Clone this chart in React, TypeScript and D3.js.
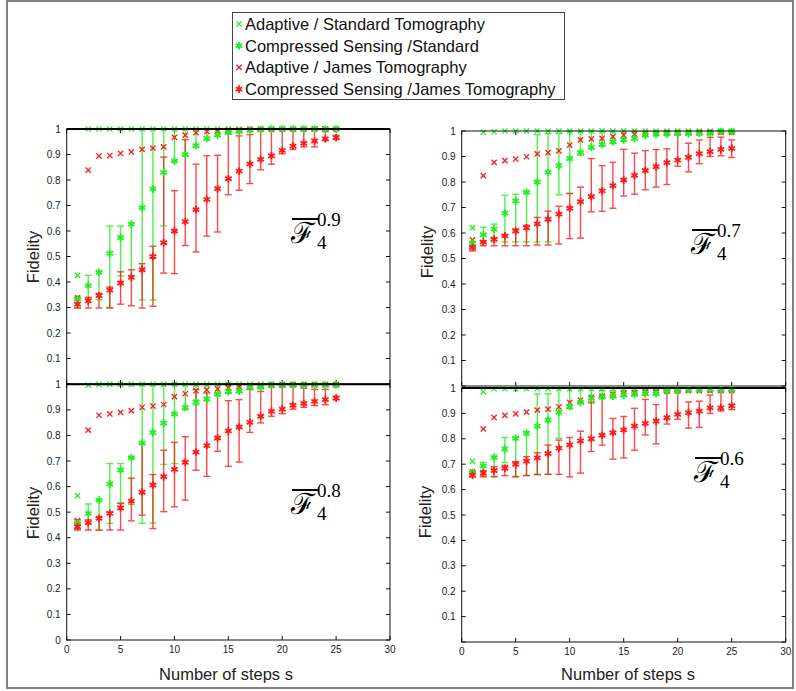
import React from 'react';
import * as d3 from 'd3';

// steps on the x axis
const steps = [1, 2, 3, 4, 5, 6, 7, 8, 9, 10, 11, 12, 13, 14, 15, 16, 17, 18, 19, 20, 21, 22, 23, 24, 25];
const xTicks = [0, 5, 10, 15, 20, 25, 30];
const yTicks = [0, 0.1, 0.2, 0.3, 0.4, 0.5, 0.6, 0.7, 0.8, 0.9, 1];

const legendLabels = [
  'Adaptive / Standard Tomography',
  'Compressed Sensing /Standard',
  'Adaptive / James Tomography',
  'Compressed Sensing /James Tomography',
];

// F^0.9
const f09AdStd = [0.426, 1, 1, 1, 1, 1, 1, 1, 1, 1, 1, 1, 1, 1, 1, 1, 1, 1, 1, 1, 1, 1, 1, 1, 1];
const f09CsStd = [0.333, 0.386, 0.438, 0.512, 0.574, 0.627, 0.691, 0.765, 0.83, 0.874, 0.9, 0.935, 0.963, 0.976, 0.986, 0.99, 0.996, 0.998, 1, 1, 1, 1, 1, 1, 1];
const f09CsStdLo = [0.298, 0.335, 0.33, 0.3, 0.424, 0.424, 0.33, 0.33, 0.62, 0.87, 0.895, 0.93, 0.958, 0.972, 0.98, 0.985, 0.99, 0.995, 0.996, 0.997, 0.998, 0.998, 0.998, 0.998, 0.998];
const f09CsStdHi = [0.335, 0.426, 0.44, 0.619, 0.619, 0.632, 1, 1, 1, 1, 1, 1, 1, 1, 1, 1, 1, 1, 1, 1, 1, 1, 1, 1, 1];
const f09AdJam = [0.338, 0.839, 0.894, 0.896, 0.904, 0.91, 0.92, 0.925, 0.93, 0.967, 0.976, 0.986, 0.99, 0.992, 0.995, 0.996, 0.997, 0.998, 0.998, 0.999, 0.999, 0.999, 1, 1, 1];
const f09CsJam = [0.313, 0.326, 0.347, 0.368, 0.396, 0.418, 0.448, 0.5, 0.554, 0.6, 0.637, 0.684, 0.724, 0.766, 0.805, 0.835, 0.863, 0.881, 0.895, 0.916, 0.933, 0.944, 0.953, 0.961, 0.966];
const f09CsJamLo = [0.298, 0.298, 0.298, 0.298, 0.313, 0.307, 0.298, 0.305, 0.435, 0.433, 0.543, 0.518, 0.58, 0.596, 0.742, 0.76, 0.786, 0.84, 0.862, 0.903, 0.92, 0.93, 0.93, 0.955, 0.96];
const f09CsJamHi = [0.34, 0.34, 0.355, 0.38, 0.44, 0.448, 0.472, 0.54, 0.89, 0.758, 0.958, 0.862, 0.895, 0.897, 0.99, 0.973, 0.978, 1, 1, 1, 1, 1, 0.995, 0.99, 0.975];

// F^0.8
const f08AdStd = [0.565, 0.997, 1, 1, 1, 1, 1, 1, 1, 1, 1, 1, 1, 1, 1, 1, 1, 1, 1, 1, 1, 1, 1, 1, 1];
const f08CsStd = [0.456, 0.495, 0.547, 0.61, 0.665, 0.713, 0.77, 0.812, 0.848, 0.884, 0.91, 0.931, 0.943, 0.962, 0.971, 0.973, 0.987, 0.988, 0.997, 0.997, 0.997, 0.997, 0.997, 0.997, 0.997];
const f08CsStdLo = [0.435, 0.456, 0.43, 0.456, 0.535, 0.53, 0.457, 0.457, 0.687, 0.69, 0.9, 0.92, 0.935, 0.955, 0.965, 0.97, 0.98, 0.985, 0.993, 0.994, 0.994, 0.994, 0.994, 0.994, 0.994];
const f08CsStdHi = [0.456, 0.532, 0.548, 0.69, 0.69, 0.715, 1, 1, 1, 1, 1, 1, 1, 1, 1, 1, 1, 1, 1, 1, 1, 1, 1, 1, 1];
const f08AdJam = [0.467, 0.821, 0.879, 0.884, 0.89, 0.897, 0.91, 0.915, 0.921, 0.952, 0.963, 0.975, 0.978, 0.982, 0.986, 0.991, 0.995, 0.996, 0.997, 0.997, 0.998, 0.998, 0.998, 0.998, 0.998];
const f08CsJam = [0.443, 0.459, 0.476, 0.495, 0.517, 0.543, 0.578, 0.606, 0.639, 0.667, 0.695, 0.735, 0.76, 0.79, 0.818, 0.833, 0.851, 0.875, 0.894, 0.903, 0.918, 0.925, 0.933, 0.94, 0.946];
const f08CsJamLo = [0.43, 0.43, 0.43, 0.43, 0.43, 0.466, 0.488, 0.436, 0.502, 0.521, 0.547, 0.664, 0.64, 0.738, 0.679, 0.696, 0.812, 0.849, 0.875, 0.885, 0.903, 0.91, 0.917, 0.92, 0.94];
const f08CsJamHi = [0.47, 0.47, 0.48, 0.5, 0.535, 0.633, 0.765, 0.647, 0.742, 0.773, 0.795, 0.979, 0.966, 0.965, 0.936, 0.94, 0.98, 0.972, 0.99, 0.99, 0.99, 0.985, 0.98, 0.98, 0.953];

// F^0.7
const f07AdStd = [0.621, 0.995, 0.997, 1, 1, 1, 1, 1, 1, 1, 1, 1, 1, 1, 1, 1, 1, 1, 1, 1, 1, 1, 1, 1, 1];
const f07CsStd = [0.56, 0.593, 0.615, 0.678, 0.726, 0.76, 0.8, 0.838, 0.864, 0.892, 0.916, 0.936, 0.948, 0.958, 0.965, 0.971, 0.983, 0.987, 0.988, 0.99, 0.99, 0.99, 0.99, 0.998, 0.998];
const f07CsStdLo = [0.55, 0.565, 0.565, 0.565, 0.565, 0.565, 0.565, 0.565, 0.75, 0.755, 0.905, 0.93, 0.94, 0.952, 0.96, 0.966, 0.978, 0.983, 0.985, 0.987, 0.987, 0.987, 0.988, 0.995, 0.995];
const f07CsStdHi = [0.565, 0.623, 0.635, 0.748, 0.752, 0.762, 0.985, 0.99, 0.99, 1, 1, 1, 0.998, 0.998, 0.998, 0.998, 0.998, 0.998, 0.998, 0.998, 0.998, 0.998, 0.998, 1, 1];
const f07AdJam = [0.573, 0.825, 0.877, 0.884, 0.89, 0.899, 0.91, 0.915, 0.922, 0.945, 0.965, 0.969, 0.971, 0.978, 0.984, 0.988, 0.99, 0.992, 0.993, 0.994, 0.994, 0.995, 0.995, 0.995, 0.995];
const f07CsJam = [0.543, 0.564, 0.576, 0.589, 0.608, 0.62, 0.636, 0.654, 0.674, 0.697, 0.723, 0.743, 0.765, 0.786, 0.808, 0.826, 0.845, 0.86, 0.876, 0.886, 0.897, 0.911, 0.919, 0.928, 0.932];
const f07CsJamLo = [0.53, 0.55, 0.55, 0.55, 0.55, 0.55, 0.553, 0.553, 0.557, 0.578, 0.58, 0.683, 0.685, 0.697, 0.745, 0.752, 0.77, 0.78, 0.79, 0.862, 0.84, 0.872, 0.9, 0.903, 0.896];
const f07CsJamHi = [0.545, 0.57, 0.58, 0.592, 0.615, 0.63, 0.661, 0.686, 0.705, 0.755, 0.78, 0.892, 0.864, 0.877, 0.928, 0.913, 0.923, 0.927, 0.93, 0.985, 0.952, 0.965, 0.975, 0.976, 0.965];

// F^0.6
const f06AdStd = [0.711, 0.985, 0.997, 0.997, 0.997, 0.997, 0.997, 0.997, 0.997, 0.997, 0.997, 0.997, 0.997, 0.997, 0.997, 0.997, 0.997, 0.997, 0.997, 0.997, 0.997, 0.997, 0.997, 0.997, 0.997];
const f06CsStd = [0.668, 0.693, 0.727, 0.76, 0.802, 0.822, 0.85, 0.874, 0.904, 0.926, 0.943, 0.959, 0.965, 0.968, 0.972, 0.975, 0.977, 0.978, 0.988, 0.989, 0.994, 0.994, 0.994, 0.994, 0.994];
const f06CsStdLo = [0.66, 0.655, 0.652, 0.706, 0.652, 0.656, 0.658, 0.66, 0.802, 0.92, 0.94, 0.94, 0.958, 0.962, 0.966, 0.97, 0.972, 0.974, 0.984, 0.986, 0.99, 0.99, 0.99, 0.99, 0.99];
const f06CsStdHi = [0.67, 0.707, 0.73, 0.805, 0.805, 0.827, 0.977, 0.977, 1, 1, 1, 1, 0.99, 0.99, 0.99, 0.99, 0.99, 0.99, 0.995, 0.995, 0.998, 0.998, 0.998, 0.998, 0.998];
const f06AdJam = [0.67, 0.839, 0.884, 0.892, 0.898, 0.905, 0.913, 0.917, 0.926, 0.943, 0.952, 0.963, 0.968, 0.975, 0.978, 0.982, 0.985, 0.985, 0.987, 0.988, 0.99, 0.99, 0.99, 0.99, 0.99];
const f06CsJam = [0.657, 0.665, 0.675, 0.684, 0.7, 0.712, 0.725, 0.742, 0.763, 0.776, 0.792, 0.8, 0.814, 0.824, 0.835, 0.85, 0.861, 0.87, 0.883, 0.896, 0.903, 0.909, 0.922, 0.922, 0.93];
const f06CsJamLo = [0.65, 0.65, 0.65, 0.655, 0.65, 0.655, 0.66, 0.66, 0.66, 0.65, 0.665, 0.75, 0.775, 0.72, 0.725, 0.755, 0.815, 0.78, 0.858, 0.877, 0.842, 0.845, 0.9, 0.91, 0.915];
const f06CsJamHi = [0.67, 0.675, 0.69, 0.695, 0.71, 0.73, 0.745, 0.775, 0.795, 0.805, 0.83, 0.945, 0.965, 0.88, 0.888, 0.92, 0.955, 0.935, 0.989, 0.988, 0.945, 0.948, 0.972, 0.99, 0.99];

const RED = '#ff1a1a';
const GREEN = '#22ee22';
const TXT = '#222';

const timesPath = d3.symbol(d3.symbolTimes, 20)();
const starPath = d3.symbol(d3.symbolAsterisk, 40)();

type PanelProps = {
  x0: number; x1: number; yTop: number; yBot: number;
  adStd: number[]; csStd: number[]; csStdLo: number[]; csStdHi: number[];
  adJam: number[]; csJam: number[]; csJamLo: number[]; csJamHi: number[];
  showZero: boolean; showXLabels: boolean; thickTop: boolean;
};

function Panel(p: PanelProps) {
  const x = d3.scaleLinear().domain([0, 30]).range([p.x0, p.x1]);
  const y = d3.scaleLinear().domain([0, 1]).range([p.yBot, p.yTop]);
  const tk = 4;

  const bars = (lo: number[], hi: number[], color: string, key: string) =>
    steps.map((s, i) => {
      const cx = x(s);
      return (
        <g key={key + s} stroke={color} strokeWidth={1.4} opacity={0.8}>
          <line x1={cx} x2={cx} y1={y(lo[i])} y2={y(hi[i])} />
          <line x1={cx - 3.5} x2={cx + 3.5} y1={y(lo[i])} y2={y(lo[i])} />
          <line x1={cx - 3.5} x2={cx + 3.5} y1={y(hi[i])} y2={y(hi[i])} />
        </g>
      );
    });

  const marks = (vals: number[], path: string, color: string, key: string, w: number) =>
    steps.map((s, i) => (
      <path key={key + s} d={path} transform={`translate(${x(s)},${y(vals[i])})`}
        fill="none" stroke={color} strokeWidth={w} />
    ));

  return (
    <g>
      <rect x={p.x0} y={p.yTop} width={p.x1 - p.x0} height={p.yBot - p.yTop} fill="#fff" />
      {/* ticks */}
      <g stroke="#111" strokeWidth={1}>
        {yTicks.map(t => (
          <g key={'yt' + t}>
            <line x1={p.x0} x2={p.x0 + tk} y1={y(t)} y2={y(t)} />
            <line x1={p.x1} x2={p.x1 - tk} y1={y(t)} y2={y(t)} />
          </g>
        ))}
        {xTicks.map(t => (
          <g key={'xt' + t}>
            <line x1={x(t)} x2={x(t)} y1={p.yBot} y2={p.yBot - tk} />
            <line x1={x(t)} x2={x(t)} y1={p.yTop} y2={p.yTop + tk} />
          </g>
        ))}
      </g>
      {yTicks.filter(t => t > 0 || p.showZero).map(t => (
        <text key={'yl' + t} x={p.x0 - 6} y={y(t)} dy="0.35em" textAnchor="end"
          fontSize={10} fontFamily="Liberation Sans, Arial, sans-serif" fill={TXT}>{t}</text>
      ))}
      {p.showXLabels && xTicks.map(t => (
        <text key={'xl' + t} x={x(t)} y={p.yBot + 13} textAnchor="middle"
          fontSize={10} fontFamily="Liberation Sans, Arial, sans-serif" fill={TXT}>{t}</text>
      ))}
      {bars(p.csStdLo, p.csStdHi, GREEN, 'gb')}
      {bars(p.csJamLo, p.csJamHi, RED, 'rb')}
      {marks(p.adStd, timesPath, GREEN, 'gx', 1.3)}
      {marks(p.adJam, timesPath, RED, 'rx', 1.3)}
      {marks(p.csStd, starPath, GREEN, 'gs', 1.8)}
      {marks(p.csJam, starPath, RED, 'rs', 1.8)}
      {/* frame */}
      <rect x={p.x0} y={p.yTop} width={p.x1 - p.x0} height={p.yBot - p.yTop}
        fill="none" stroke="#111" strokeWidth={1} />
      {p.thickTop && <line x1={p.x0} x2={p.x1} y1={p.yTop} y2={p.yTop} stroke="#000" strokeWidth={2} />}
    </g>
  );
}

function FLabel({ x, y, sup }: { x: number; y: number; sup: string }) {
  return (
    <g fill="#000">
      <line x1={x} x2={x + 27} y1={y} y2={y} stroke="#000" strokeWidth={2} />
      <text x={x - 1} y={y + 24} fontSize={29} fontFamily="DejaVu Serif, serif">ℱ</text>
      <text x={x + 25} y={y + 7} fontSize={19} fontFamily="Liberation Serif, serif">{sup}</text>
      <text x={x + 25} y={y + 30} fontSize={19} fontFamily="Liberation Serif, serif">4</text>
    </g>
  );
}

export default function App() {
  const legendColors = [GREEN, GREEN, RED, RED];
  const legendPaths = [timesPath, starPath, timesPath, starPath];
  const sans = 'Liberation Sans, Arial, sans-serif';
  return (
    <svg width={796} height={691} style={{ position: 'absolute', left: 0, top: 0, background: '#fff' }}>
      <rect x={7} y={1} width={786} height={687} fill="#fff" stroke="#808080" strokeWidth={2} />

      <Panel x0={66.7} x1={390} yTop={129} yBot={384}
        adStd={f09AdStd} csStd={f09CsStd} csStdLo={f09CsStdLo} csStdHi={f09CsStdHi}
        adJam={f09AdJam} csJam={f09CsJam} csJamLo={f09CsJamLo} csJamHi={f09CsJamHi}
        showZero={false} showXLabels={false} thickTop={true} />
      <Panel x0={461.7} x1={785.7} yTop={131} yBot={386}
        adStd={f07AdStd} csStd={f07CsStd} csStdLo={f07CsStdLo} csStdHi={f07CsStdHi}
        adJam={f07AdJam} csJam={f07CsJam} csJamLo={f07CsJamLo} csJamHi={f07CsJamHi}
        showZero={false} showXLabels={false} thickTop={false} />
      <Panel x0={66.7} x1={390} yTop={384.3} yBot={640}
        adStd={f08AdStd} csStd={f08CsStd} csStdLo={f08CsStdLo} csStdHi={f08CsStdHi}
        adJam={f08AdJam} csJam={f08CsJam} csJamLo={f08CsJamLo} csJamHi={f08CsJamHi}
        showZero={true} showXLabels={true} thickTop={true} />
      <Panel x0={461.7} x1={785.7} yTop={388} yBot={642}
        adStd={f06AdStd} csStd={f06CsStd} csStdLo={f06CsStdLo} csStdHi={f06CsStdHi}
        adJam={f06AdJam} csJam={f06CsJam} csJamLo={f06CsJamLo} csJamHi={f06CsJamHi}
        showZero={false} showXLabels={true} thickTop={true} />

      <FLabel x={292} y={219} sup="0.9" />
      <FLabel x={292} y={490} sup="0.8" />
      <FLabel x={692} y={230} sup="0.7" />
      <FLabel x={695} y={458} sup="0.6" />

      {[[33, 257], [33, 513], [427, 252], [425, 512]].map(([cx, cy], i) => (
        <text key={'fy' + i} transform={`translate(${cx},${cy}) rotate(-90)`} textAnchor="middle"
          dy="0.35em" fontSize={16.5} fontFamily={sans} fill={TXT}>Fidelity</text>
      ))}
      <text x={226} y={680} textAnchor="middle" fontSize={16.5} fontFamily={sans} fill={TXT}>Number of steps s</text>
      <text x={628} y={680} textAnchor="middle" fontSize={16.5} fontFamily={sans} fill={TXT}>Number of steps s</text>

      {/* legend */}
      <rect x={232.5} y={12.5} width={332} height={87} fill="#fff" stroke="#444" strokeWidth={1} />
      {legendLabels.map((lab, i) => {
        const cy = 24 + i * 21.7;
        return (
          <g key={lab}>
            <path d={legendPaths[i]} transform={`translate(239,${cy})`} fill="none"
              stroke={legendColors[i]} strokeWidth={i % 2 ? 1.8 : 1.3} />
            <text x={245} y={cy} dy="0.36em" fontSize={16.5} fontFamily={sans} fill="#111">{lab}</text>
          </g>
        );
      })}
    </svg>
  );
}
